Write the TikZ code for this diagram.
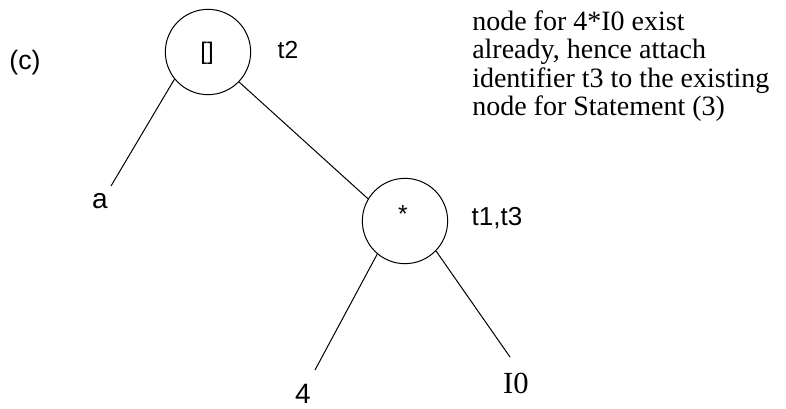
\documentclass[tikz,border=0pt]{standalone}
\usepackage{fontspec}
\setmainfont{Liberation Serif}
\setsansfont{Liberation Sans}
\begin{document}
\begin{tikzpicture}[x=0.75pt,y=-0.75pt,
  treenode/.style={draw,circle,line width=0.75pt,minimum size=64pt,inner sep=0pt},
  edge/.style={line width=0.75pt},
  lab/.style={font=\sffamily\fontsize{18.5pt}{20pt}\selectfont,inner sep=0pt,anchor=base},
  note/.style={font=\rmfamily\fontsize{21pt}{23pt}\selectfont,inner sep=0pt,anchor=base west}]
\useasboundingbox (0,0) rectangle (786,408);
% tree nodes
\node[treenode] (n1) at (208,52) {};
\node[treenode] (n2) at (405,221) {};
% texts inside circles
\node[lab,font=\sffamily\fontsize{18pt}{20pt}\selectfont] (br) at (207,59) {[]};
\node[lab] (st) at (403,222) {*};
% labels
\node[lab,font=\sffamily\fontsize{20pt}{22pt}\selectfont] (c) at (25,69) {(c)};
\node[lab] (t2) at (288,58) {t2};
\node[lab,font=\sffamily\fontsize{19.5pt}{22pt}\selectfont] (t13) at (497,225) {t1,t3};
\node[lab,font=\sffamily\fontsize{21pt}{23pt}\selectfont] (a) at (100,208) {a};
\node[lab,font=\sffamily\fontsize{21pt}{23pt}\selectfont] (four) at (303,403) {4};
\node[lab,font=\rmfamily\fontsize{23pt}{25pt}\selectfont] (i0) at (516,393) {I0};
% note
\node[note] (l1) at (472,30) {node for 4*I0 exist};
\node[note] (l2) at (472,58) {already, hence attach};
\node[note] (l3) at (472,87) {identifier t3 to the existing};
\node[note] (l4) at (472,115) {node for Statement (3)};
% connector ends
\coordinate (ea) at (111,186);
\coordinate (e4) at (315,370);
\coordinate (ei) at (510,357);
% connectors
\draw[edge] (n1.219) -- (ea);
\draw[edge] (n1.316) -- (n2.149);
\draw[edge] (n2.230) -- (e4);
\draw[edge] (n2.316) -- (ei);
\end{tikzpicture}
\end{document}
